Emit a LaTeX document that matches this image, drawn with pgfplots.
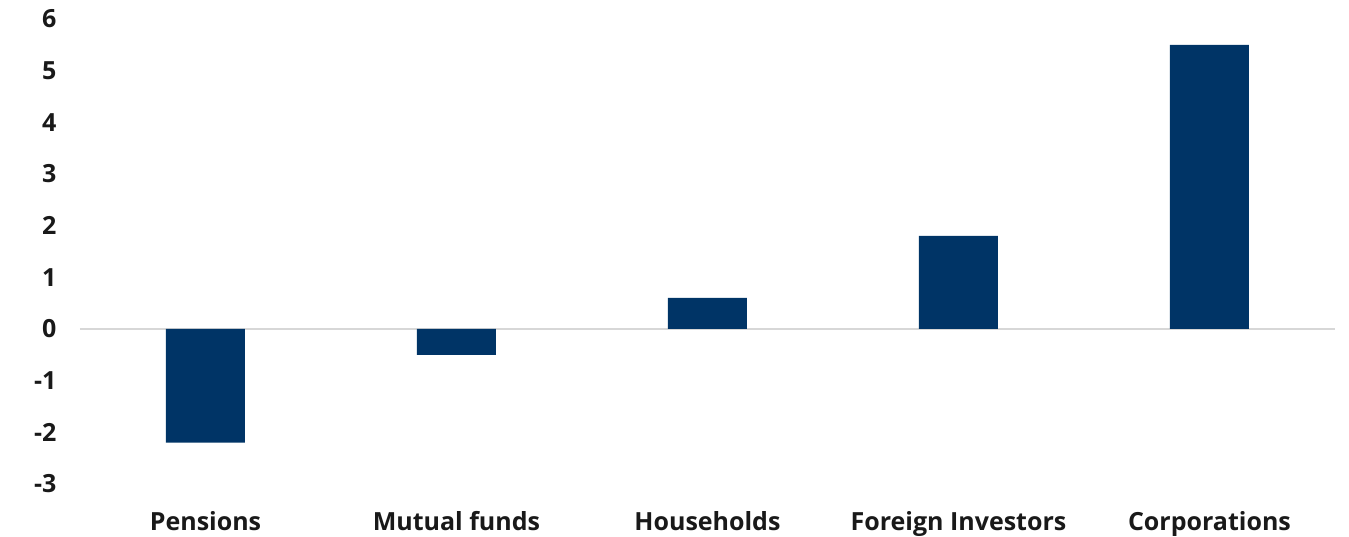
\documentclass[border=0pt]{standalone}
\usepackage{pgfplots}
\pgfplotsset{compat=1.18}
\usepackage{fontspec}
\setmainfont{Open Sans}
\definecolor{barblue}{RGB}{0,52,102}
\definecolor{zeroline}{RGB}{215,215,215}
\begin{document}
\begin{tikzpicture}[x=1pt,y=1pt]
\useasboundingbox (-80,-53) rectangle (1269,484);
\begin{axis}[
  at={(0,0)}, anchor=south west,
  scale only axis,
  width=1255pt, height=465pt,
  xmin=-0.5, xmax=4.5,
  ymin=-3, ymax=6,
  ytick={-3,...,6},
  xtick=data,
  xticklabels={Pensions,Mutual funds,Households,Foreign Investors,Corporations},
  axis line style={draw=none},
  major tick style={draw=none},
  /pgf/number format/assume math mode=true,
  ticklabel style={font=\fontsize{25}{29}\selectfont\bfseries, text=black!90},
  yticklabel style={xshift=-20pt},
  xticklabel style={yshift=-20pt},
  extra y ticks={0},
  extra y tick labels={},
  extra y tick style={grid=major, major grid style={draw=zeroline, line width=2pt}},
  ybar, bar width=79pt,
  clip=false,
]
\addplot[fill=barblue, draw=none] coordinates {(0,-2.2) (1,-0.5) (2,0.6) (3,1.8) (4,5.5)};
\end{axis}
\end{tikzpicture}
\end{document}
